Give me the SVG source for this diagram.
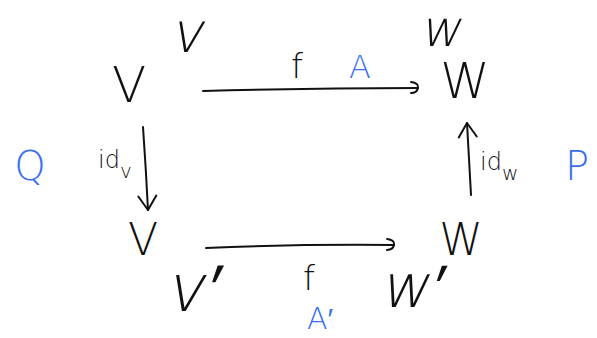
<svg xmlns="http://www.w3.org/2000/svg" width="597" height="338" viewBox="0 0 597 338">
<style>
.t{font-family:"DejaVu Sans","Liberation Sans",sans-serif;fill:#111;font-weight:200;}
.s{font-family:"DejaVu Sans","Liberation Sans",sans-serif;font-weight:200;fill:#111;text-anchor:middle;}
.b{font-family:"DejaVu Sans","Liberation Sans",sans-serif;fill:#3a70f0;font-weight:200;}
.c{fill:none;stroke:#111;stroke-width:2;stroke-linecap:round;}
</style>
<defs>
<marker id="ah" markerWidth="12" markerHeight="16" refX="9" refY="8" orient="auto" markerUnits="userSpaceOnUse">
<path d="M2,2 Q10,3 9,8 Q8,13 2,13" fill="none" stroke="#111" stroke-width="2" stroke-linecap="round"/>
</marker>
<marker id="av" markerWidth="18" markerHeight="22" refX="16" refY="11" orient="auto" markerUnits="userSpaceOnUse">
<path d="M2,2 L16,11 L2,20" fill="none" stroke="#111" stroke-width="2" stroke-linecap="round" stroke-linejoin="round"/>
</marker>
</defs>
<rect width="597" height="338" fill="#fff"/>
<g id="connectors">
<path class="c" d="M203,91 Q310,88 418,88" marker-end="url(#ah)"/>
<path class="c" d="M206,248 Q300,244 394,245" marker-end="url(#ah)"/>
<path class="c" d="M143,127 Q146,170 148,210" marker-end="url(#av)"/>
<path class="c" d="M471,195 Q469,160 467,123" marker-end="url(#av)"/>
</g>
<g id="node-V-top"><text class="t" x="129" y="102" font-size="50" text-anchor="middle">V</text></g>
<g id="node-v-basis"><text class="s" x="197" y="52" font-size="56" transform="skewX(-12)">v</text></g>
<g id="node-W-top"><text class="t" x="465" y="98" font-size="50" text-anchor="middle">W</text></g>
<g id="node-w-basis"><text class="s" x="450" y="46" font-size="50" transform="skewX(-12)">w</text></g>
<g id="node-V-bottom"><text class="t" x="143" y="255" font-size="44" text-anchor="middle">V</text></g>
<g id="node-v-prime"><text class="s" x="256" y="311" font-size="66" transform="skewX(-12)">v′</text></g>
<g id="node-W-bottom"><text class="t" x="461" y="255" font-size="44" text-anchor="middle">W</text></g>
<g id="node-w-prime"><text class="s" x="475" y="307" font-size="60" transform="skewX(-12)">w′</text></g>
<g id="labels">
<text class="t" x="297" y="78" font-size="34" text-anchor="middle">f</text>
<text class="b" x="360" y="78" font-size="32" text-anchor="middle">A</text>
<text class="t" x="309" y="290" font-size="34" text-anchor="middle">f</text>
<text class="b" x="320" y="329" font-size="30" text-anchor="middle">A′</text>
<text class="t" x="98" y="168" font-size="24">id<tspan font-size="20" dy="10">v</tspan></text>
<text class="t" x="480" y="170" font-size="24">id<tspan font-size="20" dy="10">w</tspan></text>
<text class="b" x="30" y="180" font-size="40" text-anchor="middle">Q</text>
<text class="b" x="577" y="180" font-size="40" text-anchor="middle">P</text>
</g>
</svg>
